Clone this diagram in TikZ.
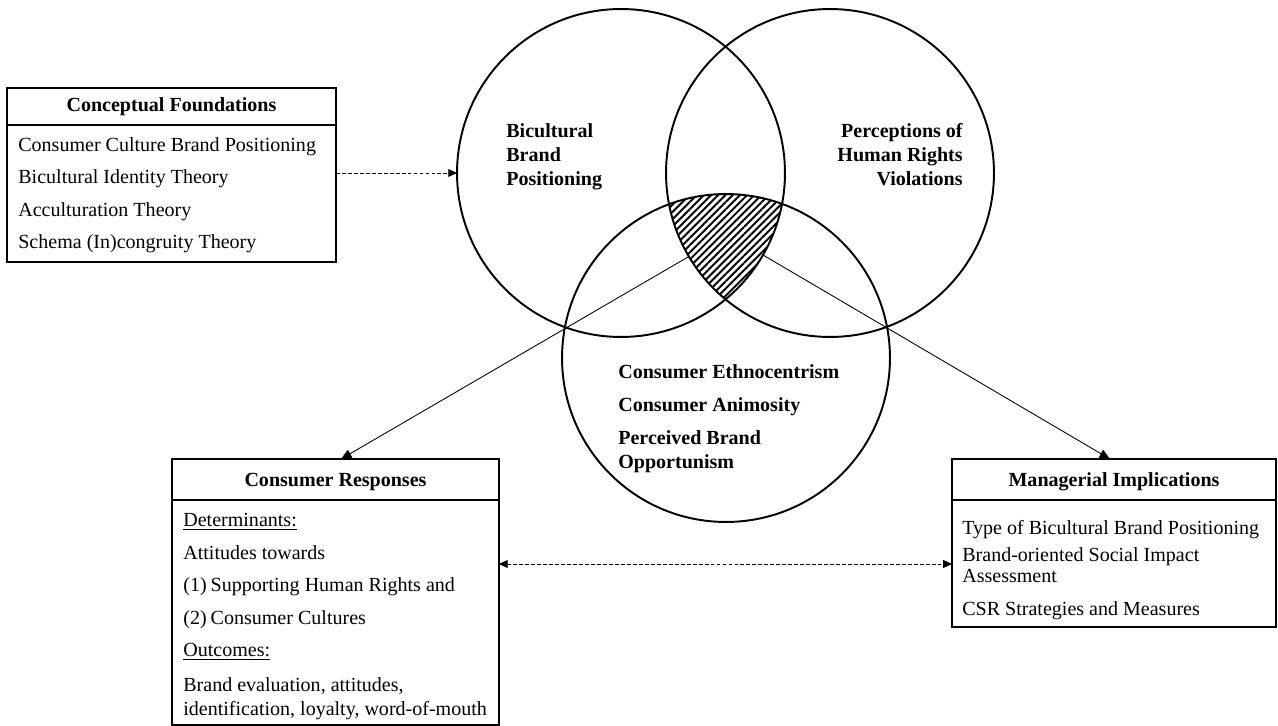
\documentclass[tikz,border=0pt]{standalone}
\usepackage{fontspec}
\setmainfont{Liberation Serif}
\usetikzlibrary{arrows.meta,patterns.meta}
\newcommand\myfs{\fontsize{11.4}{14}\selectfont}
\begin{document}
\begin{tikzpicture}[x=0.02cm,y=-0.02cm,
  venn/.style={circle,draw,line width=1.1pt,minimum size=6.56cm,inner sep=0pt,outer sep=0pt},
  framebox/.style={rectangle,draw,line width=1pt,inner sep=0pt,outer sep=0pt,anchor=north west},
  sep/.style={line width=1pt},
  txt/.style={anchor=base west,inner sep=0pt,font=\myfs},
  bt/.style={anchor=base west,inner sep=0pt,font=\myfs\bfseries},
  bte/.style={anchor=base east,inner sep=0pt,font=\myfs\bfseries},
  head/.style={anchor=base,inner sep=0pt,font=\myfs\bfseries},
  conn/.style={line width=0.5pt,-{Triangle[length=6pt,width=5pt]}},
  dconn/.style={line width=0.5pt,dash pattern=on 2.2pt off 1.2pt,-{Triangle[length=5pt,width=4.5pt]}},
  ddconn/.style={line width=0.5pt,dash pattern=on 2.2pt off 1.2pt,{Triangle[length=5pt,width=4.5pt]}-{Triangle[length=5pt,width=4.5pt]}}
]
\useasboundingbox (0,0) rectangle (1278,726);

% hatched triple intersection
\begin{scope}
  \clip (621,173) circle[radius=3.28cm];
  \clip (830,173) circle[radius=3.28cm];
  \fill[pattern={Lines[angle=45,distance=2.9pt,line width=1.1pt]}] (726,358) circle[radius=3.28cm];
\end{scope}

% circles
\node[venn] (c1) at (621,173) {};
\node[venn] (c2) at (830,173) {};
\node[venn] (c3) at (726,358) {};

% circle texts
\node[bt] (t1a) at (506,138) {Bicultural};
\node[bt] (t1b) at (506,162) {Brand};
\node[bt] (t1c) at (506,186) {Positioning};
\node[bte] (t2a) at (963,138) {Perceptions of};
\node[bte] (t2b) at (963,162) {Human Rights};
\node[bte] (t2c) at (963,186) {Violations};
\node[bt] (t3a) at (618,378) {Consumer Ethnocentrism};
\node[bt] (t3b) at (618,411) {Consumer Animosity};
\node[bt] (t3c) at (618,444) {Perceived Brand};
\node[bt] (t3d) at (618,468) {Opportunism};

% Conceptual Foundations box
\node[framebox,minimum width=6.58cm,minimum height=3.48cm] (cf) at (7,88) {};
\draw[sep] (7,125) -- (336,125);
\node[head] (cfh) at (171.5,111.5) {Conceptual Foundations};
\node[txt] (cf1) at (18,152) {Consumer Culture Brand Positioning};
\node[txt] (cf2) at (18,184) {Bicultural Identity Theory};
\node[txt] (cf3) at (18,217) {Acculturation Theory};
\node[txt] (cf4) at (18,249) {Schema (In)congruity Theory};

% Consumer Responses box
\node[framebox,minimum width=6.54cm,minimum height=5.32cm] (cr) at (172,459) {};
\draw[sep] (172,500) -- (499,500);
\node[head] (crh) at (335.5,486.5) {Consumer Responses};
\node[txt] (cr1) at (183,526.5) {\underline{Determinants:}};
\node[txt] (cr2) at (183,559) {Attitudes towards};
\node[txt] (cr3) at (183,591.5) {(1)\hspace{0.2em}Supporting Human Rights and};
\node[txt] (cr4) at (183,624) {(2)\hspace{0.2em}Consumer Cultures};
\node[txt] (cr5) at (183,656.5) {\underline{Outcomes:}};
\node[txt] (cr6) at (183,691.5) {Brand evaluation, attitudes,};
\node[txt] (cr7) at (183,715) {identification, loyalty, word-of-mouth};

% Managerial Implications box
\node[framebox,minimum width=6.48cm,minimum height=3.36cm] (mi) at (952,459) {};
\draw[sep] (952,500) -- (1276,500);
\node[head] (mih) at (1114,486) {Managerial Implications};
\node[txt] (mi1) at (962,534) {Type of Bicultural Brand Positioning};
\node[txt] (mi2) at (962,561.5) {Brand-oriented Social Impact};
\node[txt] (mi3) at (962,582.5) {Assessment};
\node[txt] (mi4) at (962,615) {CSR Strategies and Measures};

% connectors
\coordinate (sl) at (688,257);
\coordinate (sr) at (763,255);
\coordinate (crtip) at (341,459);
\coordinate (mitip) at (1110,459);
\coordinate (ylev) at (0,564);
\draw[dconn] (cf.east |- c1.west) -- (c1.west);
\draw[conn] (sl) -- (crtip);
\draw[conn] (sr) -- (mitip);
\draw[ddconn] (cr.east |- ylev) -- (mi.west |- ylev);
\end{tikzpicture}
\end{document}
